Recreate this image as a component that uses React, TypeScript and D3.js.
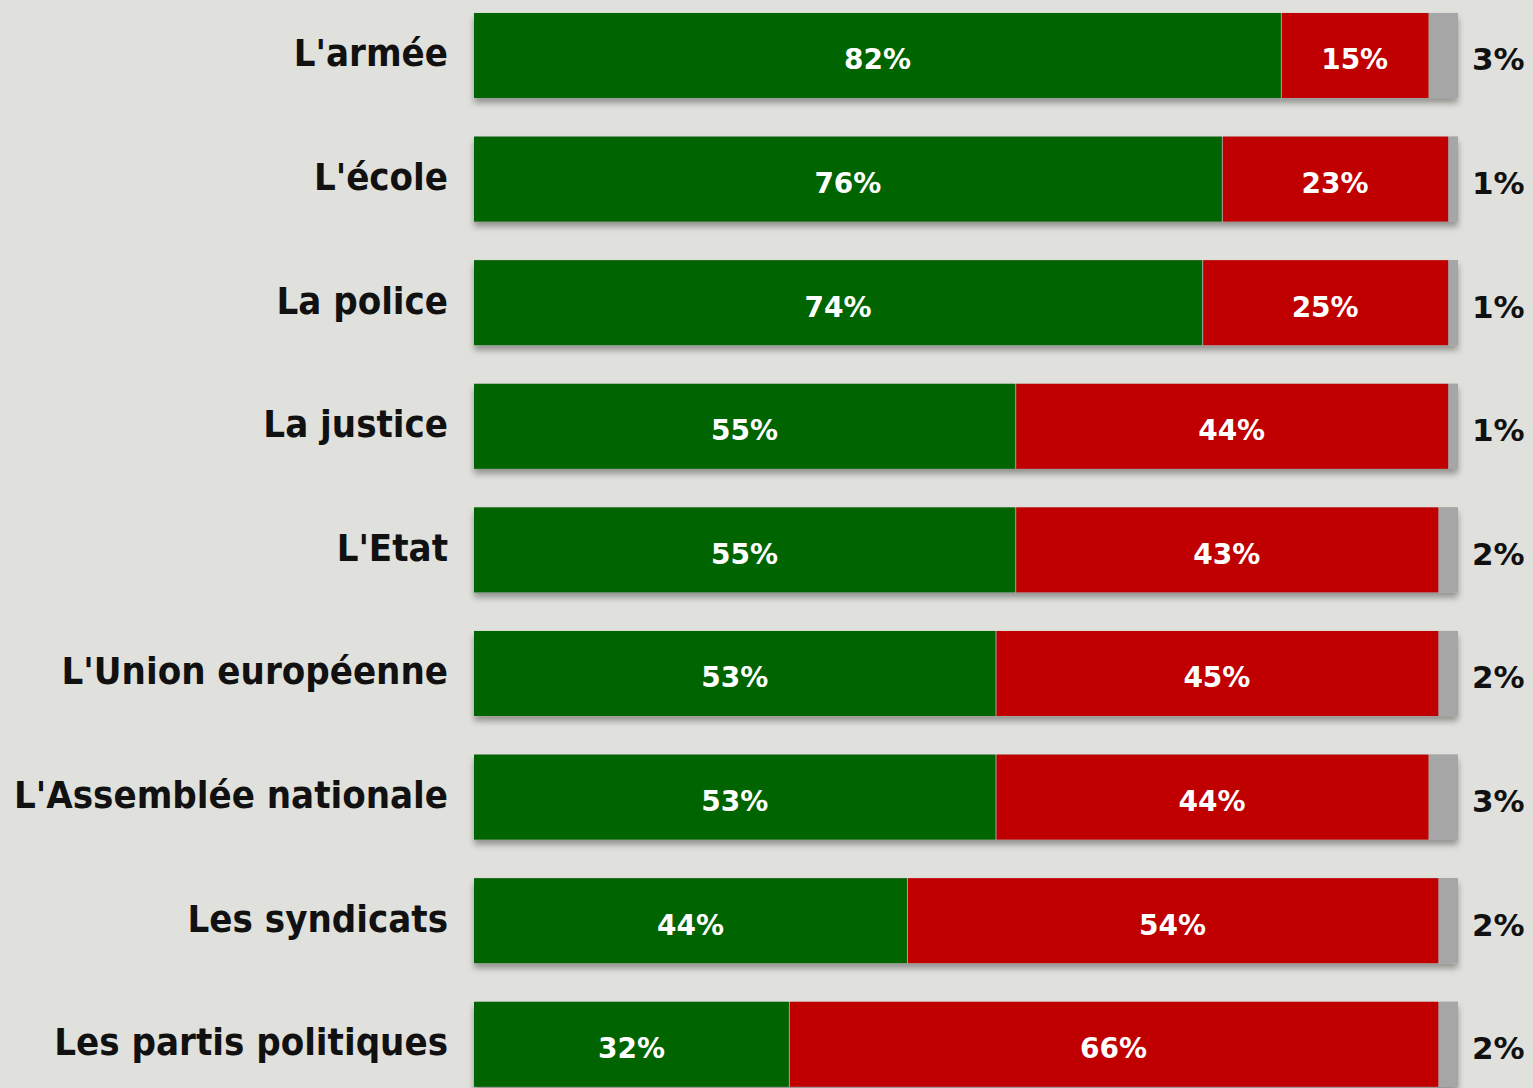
import React, { useRef, useEffect } from 'react';
import * as d3 from 'd3';

// categories and shares (%)
const categories = [
  "L'armée",
  "L'école",
  'La police',
  'La justice',
  "L'Etat",
  "L'Union européenne",
  "L'Assemblée nationale",
  'Les syndicats',
  'Les partis politiques',
];
const confiance = [82, 76, 74, 55, 55, 53, 53, 44, 32];
const defiance = [15, 23, 25, 44, 43, 45, 44, 54, 66];
const nsp = [3, 1, 1, 1, 2, 2, 3, 2, 2];

const W = 1533;
const H = 1088;

const App: React.FC = () => {
  const ref = useRef<SVGSVGElement>(null);

  useEffect(() => {
    const svg = d3.select(ref.current);
    svg.selectAll('*').remove();

    svg.append('rect').attr('width', W).attr('height', H).attr('fill', '#e0e0dc');

    const defs = svg.append('defs');
    const f = defs.append('filter').attr('id', 'shadow')
      .attr('x', '-5%').attr('y', '-20%').attr('width', '110%').attr('height', '150%');
    f.append('feDropShadow')
      .attr('dx', 0).attr('dy', 5).attr('stdDeviation', 3)
      .attr('flood-color', '#000').attr('flood-opacity', 0.35);

    const x = d3.scaleLinear().domain([0, 100]).range([474, 1458]);
    const y = d3.scaleBand().domain(categories).range([-6.3, 1106.1]).paddingInner(0.312).paddingOuter(0.156);

    const rows = categories.map((c, i) => ({
      cat: c,
      segs: [
        { v: confiance[i], start: 0, color: '#006400' },
        { v: defiance[i], start: confiance[i], color: '#c00000' },
        { v: nsp[i], start: confiance[i] + defiance[i], color: '#a6a6a6' },
      ],
    }));

    const g = svg.selectAll('g.row').data(rows).enter().append('g').attr('class', 'row')
      .attr('transform', d => `translate(0,${y(d.cat)})`);

    // shadow base
    g.append('rect')
      .attr('x', x(0)).attr('width', d => x(d.segs[2].start + d.segs[2].v) - x(0))
      .attr('height', y.bandwidth())
      .attr('fill', '#a6a6a6')
      .attr('filter', 'url(#shadow)');

    g.selectAll('rect.seg').data(d => d.segs).enter().append('rect').attr('class', 'seg')
      .attr('x', s => x(s.start) + (s.start > 0 ? 1 : 0))
      .attr('width', s => x(s.start + s.v) - x(s.start) - (s.start > 0 ? 1 : 0))
      .attr('height', y.bandwidth())
      .attr('fill', s => s.color);

    const bw = y.bandwidth();

    // category labels
    g.append('text')
      .attr('x', 448).attr('y', bw / 2 + 11)
      .attr('text-anchor', 'end')
      .style('font-family', '"DejaVu Sans Condensed", "DejaVu Sans", sans-serif')
      .style('font-stretch', 'condensed')
      .style('font-weight', 'bold').style('font-size', '38px')
      .attr('fill', '#111')
      .text(d => d.cat);

    // inside labels
    g.selectAll('text.val').data(d => d.segs.slice(0, 2)).enter().append('text').attr('class', 'val')
      .attr('x', s => x(s.start + s.v / 2))
      .attr('y', bw / 2 + 14)
      .attr('text-anchor', 'middle')
      .style('font-family', '"DejaVu Sans", sans-serif')
      .style('font-weight', 'bold').style('font-size', '28px')
      .attr('fill', '#fff')
      .text(s => `${s.v}%`);

    // outside labels
    g.append('text')
      .attr('x', 1472).attr('y', bw / 2 + 15)
      .style('font-family', '"DejaVu Sans", sans-serif')
      .style('font-weight', 'bold').style('font-size', '31px')
      .attr('fill', '#111')
      .text(d => `${d.segs[2].v}%`);
  }, []);

  return (
    <svg ref={ref} width={W} height={H} style={{ position: 'absolute', left: 0, top: 0 }}></svg>
  );
};

export default App;
